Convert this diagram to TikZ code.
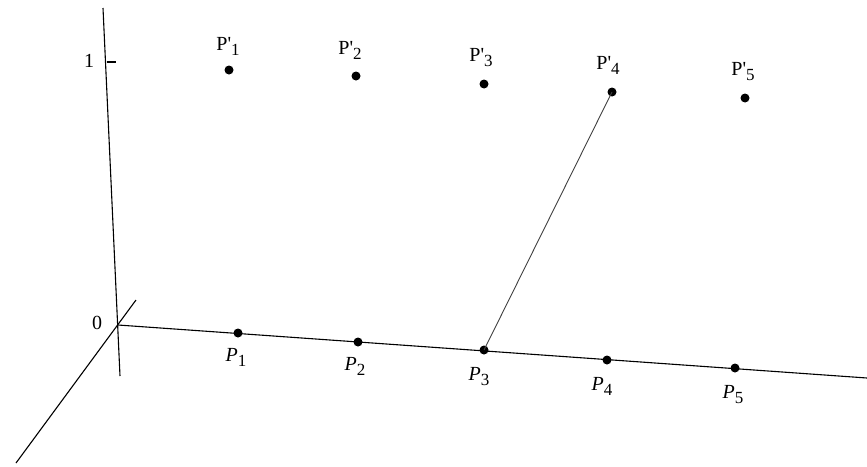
\documentclass[tikz,border=0pt]{standalone}
\usepackage{fontspec}
\setmainfont{Liberation Serif}
\usepackage{tikz}
\usetikzlibrary{positioning}
\newcommand{\lowdigit}[1]{\raisebox{-5pt}{\fontsize{17}{17}\selectfont #1}}

\begin{document}
\begin{tikzpicture}[
  x=1pt, y=-1pt,
  every node/.style={font=\fontsize{20}{22}\selectfont},
  axis/.style={draw=black, line width=1.1pt},
  dot/.style={circle, fill=black, inner sep=0pt, minimum size=9pt},
  plab/.style={inner sep=1pt},
  link/.style={draw=black!75, line width=0.9pt}
]
  \useasboundingbox (0,0) rectangle (867,466);

  % axes
  \coordinate (o) at (118,325);
  \coordinate (ztop) at (103,8);
  \coordinate (zbot) at (120,376);
  \coordinate (xend) at (867,378);
  \coordinate (ytop) at (136,300);
  \coordinate (ybot) at (16,463);
  \coordinate (tick) at (107,62);
  \draw[axis] (ztop) -- (zbot);
  \draw[axis] (o) -- (xend);
  \draw[axis] (ytop) -- (ybot);
  \draw[axis] (tick) -- ++(9,0);
  \node[plab] (one) at (89,61) {1};
  \node[plab] (zero) at (97,323) {0};

  % points on the axis
  \node[dot] (p1) at (238,333) {};
  \node[dot] (p2) at (358,342) {};
  \node[dot] (p3) at (484,350) {};
  \node[dot] (p4) at (607,360) {};
  \node[dot] (p5) at (735,368) {};
  \node[plab] (lp1) at (236,357) {\textit{P}\lowdigit{1}};
  \node[plab] (lp2) at (355,366) {\textit{P}\lowdigit{2}};
  \node[plab] (lp3) at (479,377) {\textit{P}\lowdigit{3}};
  \node[plab] (lp4) at (602,386) {\textit{P}\lowdigit{4}};
  \node[plab] (lp5) at (733,395) {\textit{P}\lowdigit{5}};

  % points at height 1
  \node[dot] (q1) at (229,70) {};
  \node[dot] (q2) at (356,76) {};
  \node[dot] (q3) at (484,84) {};
  \node[dot] (q4) at (612,92) {};
  \node[dot] (q5) at (745,98) {};
  \node[plab] (lq1) at (228,46) {P\textquotesingle\lowdigit{1}};
  \node[plab] (lq2) at (350,50) {P\textquotesingle\lowdigit{2}};
  \node[plab] (lq3) at (481,58) {P\textquotesingle\lowdigit{3}};
  \node[plab] (lq4) at (608,65) {P\textquotesingle\lowdigit{4}};
  \node[plab] (lq5) at (743,72) {P\textquotesingle\lowdigit{5}};

  \draw[link] (p3.center) -- (q4.center);
\end{tikzpicture}
\end{document}
